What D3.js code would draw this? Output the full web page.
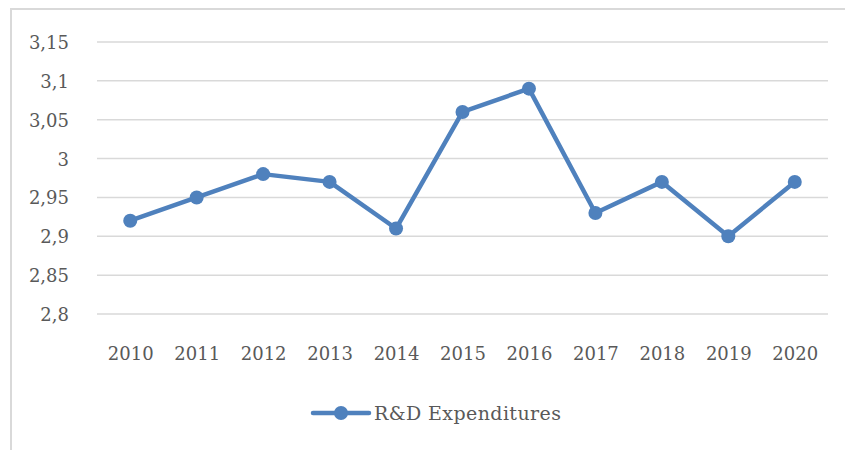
<!DOCTYPE html>
<html>
<head>
<meta charset="utf-8">
<script src="https://cdn.jsdelivr.net/npm/d3@7"></script>
<style>
  body { margin: 0; background: #fff; }
  svg text { font-family: "DejaVu Serif", serif; fill: #595959; }
</style>
</head>
<body>
<div id="chart"></div>
<script>
// data
var years = ["2010", "2011", "2012", "2013", "2014", "2015", "2016", "2017", "2018", "2019", "2020"];
var rdValues = [2.92, 2.95, 2.98, 2.97, 2.91, 3.06, 3.09, 2.93, 2.97, 2.90, 2.97];
var yTicks = [2.8, 2.85, 2.9, 2.95, 3, 3.05, 3.1, 3.15];
var seriesName = "R&D Expenditures";

var W = 845, H = 450;
var margin = {top: 42, right: 17, bottom: 136, left: 97};
var lineColor = "#4f81bd";

var svg = d3.select("#chart").append("svg")
    .attr("width", W)
    .attr("height", H);

// outer frame
svg.append("rect")
    .attr("x", 11).attr("y", 9)
    .attr("width", W).attr("height", H)
    .attr("fill", "none")
    .attr("stroke", "#d9d9d9")
    .attr("stroke-width", 2);

var x = d3.scalePoint().domain(years)
    .range([margin.left, W - margin.right]).padding(0.5);
var y = d3.scaleLinear().domain([2.8, 3.15])
    .range([H - margin.bottom, margin.top]);

// gridlines
svg.append("g").selectAll("line")
    .data(yTicks)
  .enter().append("line")
    .attr("x1", margin.left).attr("x2", W - margin.right)
    .attr("y1", function(d) { return y(d); })
    .attr("y2", function(d) { return y(d); })
    .attr("stroke", "#d9d9d9")
    .attr("stroke-width", 1.5);

// y labels
var fmt = function(d) { return String(+d.toFixed(2)).replace(".", ","); };
var yAxis = svg.append("g")
    .attr("transform", "translate(" + (margin.left - 28) + ",0)")
    .call(d3.axisLeft(y).tickValues(yTicks).tickFormat(fmt).tickSize(0).tickPadding(0));
yAxis.select(".domain").remove();
yAxis.selectAll("text")
    .style("font-size", "18px")
    .attr("dy", "0.36em");

// x labels
var xAxis = svg.append("g")
    .attr("transform", "translate(0," + (H - margin.bottom) + ")")
    .call(d3.axisBottom(x).tickSize(0).tickPadding(34));
xAxis.select(".domain").remove();
xAxis.selectAll("text")
    .style("font-size", "18px")
    .attr("dy", "0.36em")
    .attr("y", 40);

// series line
var line = d3.line()
    .x(function(d, i) { return x(years[i]); })
    .y(function(d) { return y(d); });

svg.append("path")
    .datum(rdValues)
    .attr("fill", "none")
    .attr("stroke", lineColor)
    .attr("stroke-width", 4.5)
    .attr("stroke-linejoin", "round")
    .attr("d", line);

svg.append("g").selectAll("circle")
    .data(rdValues)
  .enter().append("circle")
    .attr("cx", function(d, i) { return x(years[i]); })
    .attr("cy", function(d) { return y(d); })
    .attr("r", 7)
    .attr("fill", lineColor);

// legend
var lg = svg.append("g").attr("transform", "translate(313,413)");
lg.append("line")
    .attr("x1", 0).attr("x2", 56)
    .attr("stroke", lineColor).attr("stroke-width", 4.5)
    .attr("stroke-linecap", "round");
lg.append("circle").attr("cx", 28).attr("r", 7).attr("fill", lineColor);
lg.append("text")
    .attr("x", 61).attr("dy", "0.36em")
    .style("font-size", "19px")
    .style("letter-spacing", "0.4px")
    .text(seriesName);
</script>
</body>
</html>
